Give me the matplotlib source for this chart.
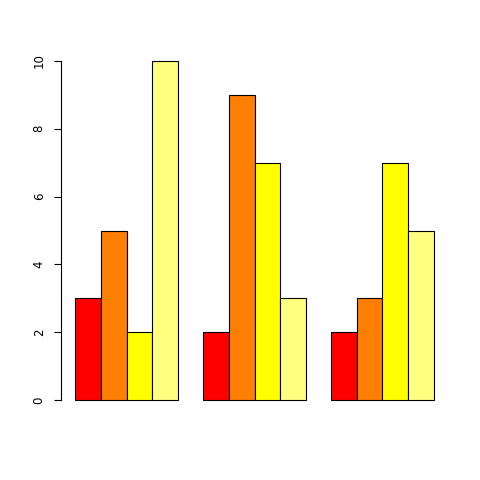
import numpy as np
from matplotlib import pyplot as plt

# valores por grupo (4 series, 3 grupos)
serie1 = [3, 2, 2]
serie2 = [5, 9, 3]
serie3 = [2, 7, 7]
serie4 = [10, 3, 5]
colores = ['#FF0000', '#FF8000', '#FFFF00', '#FFFF80']

series = [serie1, serie2, serie3, serie4]
n_grupos = len(serie1)

fig = plt.figure(figsize=(4.8, 4.8), dpi=100)
ax = fig.add_axes([61/480, 1 - 413.6/480, 387/480, 366.2/480])

# posiciones estilo barplot(beside=TRUE): espacio 1 entre grupos
for j, (vals, col) in enumerate(zip(series, colores)):
    x = np.arange(n_grupos) * 5 + 1 + j
    ax.bar(x, vals, width=1, align='edge', color=col,
           edgecolor='black', linewidth=0.8)

ax.set_xlim(0.44, 15.56)
ax.set_ylim(-0.4, 10.4)

# ejes
for lado in ['top', 'right', 'bottom']:
    ax.spines[lado].set_visible(False)
ax.spines['left'].set_bounds(0, 10)
ax.spines['left'].set_linewidth(0.8)
ax.set_xticks([])
ax.set_yticks(np.arange(0, 11, 2))
ax.tick_params(axis='y', length=5, width=0.8, pad=6, labelsize=8.5,
               labelrotation=90)
for t in ax.get_yticklabels():
    t.set_verticalalignment('center')

plt.savefig('out.png', dpi=100)
